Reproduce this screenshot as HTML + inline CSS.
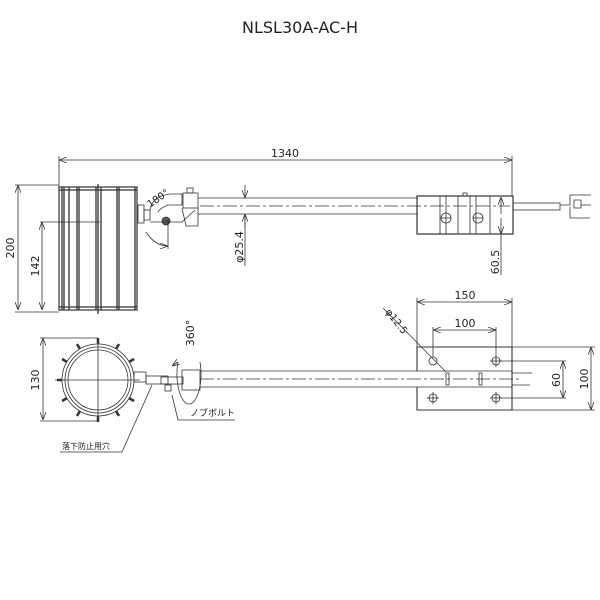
<!DOCTYPE html>
<html><head><meta charset="utf-8"><style>
html,body{margin:0;padding:0;background:#fff}
svg{display:block}
text{font-family:"DejaVu Sans","Liberation Sans","Noto Sans CJK JP",sans-serif;fill:#222}
</style></head><body>
<svg width="600" height="600" viewBox="0 0 600 600" xmlns="http://www.w3.org/2000/svg">
<defs>
<marker id="a" markerWidth="8" markerHeight="6" refX="8" refY="3" orient="auto-start-reverse" markerUnits="userSpaceOnUse"><path d="M0,0 L8,3 L0,6" fill="none" stroke="#333" stroke-width="0.8"/></marker>
</defs>
<text x="300" y="33" font-size="16" text-anchor="middle" fill="#222">NLSL30A-AC-H</text>
<g stroke="#333" stroke-width="0.8" fill="none">
<line x1="59" y1="160" x2="512" y2="160" marker-start="url(#a)" marker-end="url(#a)"/>
<line x1="59" y1="156" x2="59" y2="187"/>
<line x1="512" y1="156" x2="512" y2="196"/>
<rect x="59" y="187" width="78" height="123" stroke-width="1.2"/>
<g stroke-width="1.3">
<line x1="62" y1="187" x2="62" y2="310"/><line x1="64" y1="187" x2="64" y2="310"/>
<line x1="69" y1="187" x2="69" y2="310"/><line x1="77" y1="187" x2="77" y2="310"/>
<line x1="79" y1="187" x2="79" y2="310"/><line x1="96" y1="187" x2="96" y2="310"/>
<line x1="98" y1="184" x2="98" y2="314"/><line x1="101" y1="187" x2="101" y2="310"/>
<line x1="117" y1="187" x2="117" y2="310"/><line x1="119" y1="187" x2="119" y2="310"/>
<line x1="135" y1="187" x2="135" y2="310"/>
<line x1="59" y1="190" x2="137" y2="190"/><line x1="59" y1="307" x2="137" y2="307"/>
</g>
<line x1="18" y1="185" x2="18" y2="310" marker-start="url(#a)" marker-end="url(#a)"/>
<line x1="15" y1="185" x2="59" y2="185"/><line x1="15" y1="312" x2="59" y2="312"/>
<line x1="42" y1="222" x2="42" y2="310" marker-start="url(#a)" marker-end="url(#a)"/>
<line x1="40" y1="222" x2="100" y2="222"/>
<rect x="138" y="205" width="6" height="18"/>
<rect x="144" y="210" width="6" height="10"/>
<path d="M150,210 Q152,196 170,194 L182,194 L182,205 L168,205 Q160,208 158,212"/>
<circle cx="166" cy="221" r="4" fill="#555"/>
<path d="M150,222 L182,222 L195,210"/>
<path d="M182,208 L186,226 L198,226 L198,208"/>
<rect x="183" y="193" width="15" height="15"/>
<rect x="187" y="188" width="6" height="5"/>
<path d="M146,232 Q155,246 168,246" marker-end="url(#a)"/>
<line x1="168" y1="220" x2="168" y2="249"/>
<line x1="198" y1="198" x2="418" y2="198"/><line x1="198" y1="214" x2="418" y2="214"/>
<line x1="200" y1="206" x2="510" y2="206" stroke-dasharray="14,3,3,3"/>
<line x1="245" y1="185" x2="245" y2="198" marker-end="url(#a)"/>
<line x1="245" y1="228" x2="245" y2="214" marker-end="url(#a)"/>
<line x1="245" y1="214" x2="245" y2="266"/>
<rect x="417" y="196" width="96" height="38" stroke-width="1.2"/>
<line x1="440" y1="196" x2="440" y2="234"/><line x1="446" y1="196" x2="446" y2="234"/>
<line x1="458" y1="196" x2="458" y2="234"/><line x1="470" y1="196" x2="470" y2="234"/>
<line x1="476" y1="196" x2="476" y2="234"/><line x1="490" y1="196" x2="490" y2="234"/>
<circle cx="446" cy="218" r="5"/><line x1="441" y1="218" x2="451" y2="218"/>
<circle cx="478" cy="218" r="5"/><line x1="473" y1="218" x2="483" y2="218"/>
<rect x="463" y="193" width="4" height="3"/>
<line x1="501" y1="214" x2="501" y2="197" marker-end="url(#a)"/>
<line x1="501" y1="218" x2="501" y2="234" marker-end="url(#a)"/>
<line x1="501" y1="234" x2="501" y2="275"/>
<rect x="513" y="203" width="47" height="7"/>
<path d="M560,205 L570,205 L570,195 L591,195 M570,207 L570,218 L590,218 M574,200 L581,200 L581,208 L574,208 Z M581,205 L591,205"/>
<circle cx="98" cy="380" r="36"/><circle cx="98" cy="380" r="33"/><circle cx="98" cy="380" r="30"/>
<line x1="55" y1="380" x2="140" y2="380"/><line x1="98" y1="338" x2="98" y2="422"/>
<g stroke-width="2.5">
<line x1="98" y1="344" x2="98" y2="338"/><line x1="98" y1="416" x2="98" y2="422"/>
<line x1="67" y1="362" x2="62" y2="359"/><line x1="129" y1="362" x2="134" y2="359"/>
<line x1="67" y1="398" x2="62" y2="401"/><line x1="129" y1="398" x2="134" y2="401"/>
<line x1="80" y1="349" x2="77" y2="344"/><line x1="116" y1="349" x2="119" y2="344"/>
<line x1="80" y1="411" x2="77" y2="416"/><line x1="116" y1="411" x2="119" y2="416"/>
<line x1="62" y1="380" x2="57" y2="380"/>
</g>
<line x1="43" y1="338" x2="43" y2="420" marker-start="url(#a)" marker-end="url(#a)"/>
<line x1="40" y1="338" x2="98" y2="338"/><line x1="40" y1="421" x2="98" y2="421"/>
<rect x="134" y="372" width="12" height="10"/>
<rect x="146" y="376" width="22" height="8"/>
<rect x="161" y="377" width="22" height="7"/>
<rect x="165" y="385" width="6" height="6"/>
<rect x="182" y="370" width="18" height="20"/>
<path d="M178,362 A12,30 0 1 0 200,362" />
<path d="M178,362 L172,366" marker-end="url(#a)"/>
<line x1="200" y1="371" x2="417" y2="371"/><line x1="200" y1="387" x2="417" y2="387"/>
<line x1="200" y1="379" x2="520" y2="379" stroke-dasharray="14,3,3,3"/>
<path d="M417,371 L417,347 L512,347 L512,410 L417,410 L417,387" stroke-width="1.1"/>
<line x1="417" y1="371" x2="512" y2="371"/><line x1="417" y1="387" x2="512" y2="387"/>
<rect x="446" y="373" width="3" height="12"/><rect x="479" y="373" width="3" height="12"/>
<line x1="512" y1="373" x2="532" y2="373"/><line x1="512" y1="385" x2="530" y2="385"/>
<circle cx="433" cy="361" r="4"/><circle cx="496" cy="361" r="4"/>
<circle cx="433" cy="398" r="4"/><circle cx="496" cy="398" r="4"/>
<line x1="427" y1="398" x2="439" y2="398"/><line x1="433" y1="392" x2="433" y2="404"/>
<line x1="490" y1="398" x2="502" y2="398"/><line x1="496" y1="392" x2="496" y2="404"/>
<line x1="490" y1="361" x2="502" y2="361"/><line x1="496" y1="355" x2="496" y2="367"/>
<line x1="417" y1="302" x2="512" y2="302" marker-start="url(#a)" marker-end="url(#a)"/>
<line x1="417" y1="298" x2="417" y2="347"/><line x1="512" y1="298" x2="512" y2="347"/>
<line x1="433" y1="330" x2="496" y2="330" marker-start="url(#a)" marker-end="url(#a)"/>
<line x1="433" y1="327" x2="433" y2="357"/><line x1="496" y1="327" x2="496" y2="357"/>
<line x1="512" y1="347" x2="595" y2="347"/><line x1="512" y1="410" x2="595" y2="410"/>
<line x1="500" y1="361" x2="566" y2="361"/><line x1="500" y1="398" x2="566" y2="398"/>
<line x1="563" y1="361" x2="563" y2="398" marker-start="url(#a)" marker-end="url(#a)"/>
<line x1="591" y1="347" x2="591" y2="410" marker-start="url(#a)" marker-end="url(#a)"/>
<line x1="383" y1="308" x2="446" y2="372"/>
<line x1="60" y1="452" x2="122" y2="452"/><line x1="122" y1="452" x2="152" y2="385"/>
<line x1="178" y1="420" x2="235" y2="420"/><line x1="178" y1="420" x2="172" y2="395"/>
</g>
<g font-size="11">
<text x="285" y="157" text-anchor="middle">1340</text>
<text transform="translate(14,248) rotate(-90)" text-anchor="middle">200</text>
<text transform="translate(39,266) rotate(-90)" text-anchor="middle">142</text>
<text transform="translate(160,201) rotate(-35)" text-anchor="middle" font-size="10">180°</text>
<text transform="translate(243,247) rotate(-90)" text-anchor="middle">φ25.4</text>
<text transform="translate(499,262) rotate(-90)" text-anchor="middle">60.5</text>
<text transform="translate(39,380) rotate(-90)" text-anchor="middle">130</text>
<text transform="translate(194,333) rotate(-90)" text-anchor="middle">360°</text>
<text x="465" y="299" text-anchor="middle">150</text>
<text x="465" y="327" text-anchor="middle">100</text>
<text transform="translate(560,380) rotate(-90)" text-anchor="middle">60</text>
<text transform="translate(588,379) rotate(-90)" text-anchor="middle">100</text>
<text transform="translate(385,312) rotate(52)" font-size="10">φ12.5</text>
<text x="190" y="416" font-size="9">ノブボルト</text>
<text x="62" y="449" font-size="8">落下防止用穴</text>
</g>
</svg>
</body></html>
